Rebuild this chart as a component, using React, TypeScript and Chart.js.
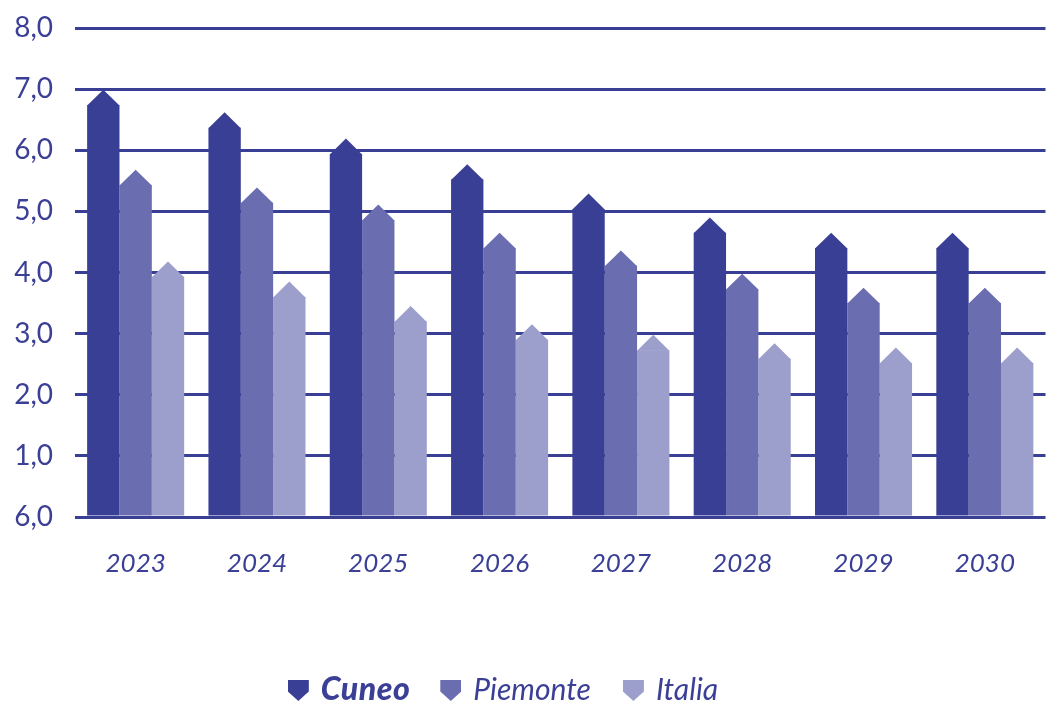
import React, { useEffect, useRef } from "react";
import { Chart, registerables } from "chart.js";

Chart.register(...registerables);

const categories = ["2023", "2024", "2025", "2026", "2027", "2028", "2029", "2030"];
const cuneo = [6.74, 6.37, 5.94, 5.52, 5.04, 4.65, 4.4, 4.4];
const piemonte = [5.43, 5.14, 4.86, 4.4, 4.11, 3.73, 3.5, 3.5];
const italia = [3.93, 3.6, 3.2, 2.9, 2.73, 2.59, 2.52, 2.52];
const yTickLabels = ["6,0", "1,0", "2,0", "3,0", "4,0", "5,0", "6,0", "7,0", "8,0"];
const seriesNames = ["Cuneo", "Piemonte", "Italia"];
const seriesColors = ["#393f95", "#6a6eb0", "#9c9fcc"];
const textColor = "#3b4096";
const gridColor = "#3a3f96";

const capPlugin = {
  id: "barCaps",
  afterDatasetsDraw(chart: any) {
    const ctx = chart.ctx;
    chart.data.datasets.forEach((ds: any, di: number) => {
      const meta = chart.getDatasetMeta(di);
      if (meta.hidden) return;
      meta.data.forEach((bar: any) => {
        const w = bar.width;
        const h = (w / 2) * 0.95;
        ctx.save();
        ctx.fillStyle = ds.backgroundColor;
        ctx.beginPath();
        ctx.moveTo(bar.x - w / 2, bar.y + 0.5);
        ctx.lineTo(bar.x, bar.y - h);
        ctx.lineTo(bar.x + w / 2, bar.y + 0.5);
        ctx.closePath();
        ctx.fill();
        ctx.restore();
      });
    });
  },
};

function Marker({ color }: { color: string }) {
  return (
    <span
      style={{
        display: "inline-block",
        width: 21,
        height: 21,
        background: color,
        clipPath: "polygon(0 0, 100% 0, 100% 55%, 50% 100%, 0 55%)",
        marginRight: 12,
        verticalAlign: "middle",
        position: "relative",
        top: -2,
      }}
    />
  );
}

export default function App() {
  const ref = useRef<HTMLCanvasElement | null>(null);

  useEffect(() => {
    document.body.style.margin = "0";
    const canvas = ref.current;
    if (!canvas) return;
    const chart = new Chart(canvas, {
      type: "bar",
      data: {
        labels: categories,
        datasets: [
          { label: seriesNames[0], data: cuneo, backgroundColor: seriesColors[0] },
          { label: seriesNames[1], data: piemonte, backgroundColor: seriesColors[1] },
          { label: seriesNames[2], data: italia, backgroundColor: seriesColors[2] },
        ].map((d) => ({ ...d, categoryPercentage: 0.8, barPercentage: 1, borderWidth: 0 })),
      },
      options: {
        animation: false,
        responsive: false,
        maintainAspectRatio: false,
        layout: { padding: { top: 28, right: 0, left: 0, bottom: 0 } },
        plugins: { legend: { display: false }, tooltip: { enabled: false } },
        scales: {
          x: {
            grid: { display: false, drawTicks: false },
            border: { display: false },
            ticks: {
              color: textColor,
              font: { family: "Lato", style: "italic", size: 26 },
              padding: 31,
              maxRotation: 0,
            },
            afterFit: (s: any) => {
              s.height = 187;
            },
          },
          y: {
            min: 0,
            max: 8,
            z: 1,
            grid: { color: gridColor, lineWidth: 3, drawTicks: false },
            border: { display: false },
            ticks: {
              stepSize: 1,
              color: textColor,
              font: { family: "Lato", size: 28 },
              padding: 22,
              callback: (v: any) => yTickLabels[Math.round(Number(v))] ?? "",
            },
            afterFit: (s: any) => {
              s.width = 75;
              s.paddingTop = 0;
              s.paddingBottom = 0;
            },
          },
        },
      },
      plugins: [capPlugin],
    } as any);
    return () => chart.destroy();
  }, []);

  return (
    <div style={{ position: "relative", width: 1046, height: 704 }}>
      <canvas ref={ref} width={1046} height={704} style={{ display: "block" }} />
      <div
        style={{
          position: "absolute",
          left: -20,
          width: 1046,
          top: 670,
          textAlign: "center",
          fontFamily: "Lato",
          fontStyle: "italic",
          fontSize: 30,
          color: textColor,
          whiteSpace: "nowrap",
          lineHeight: "36px",
        }}
      >
        <span style={{ marginRight: 30 }}>
          <Marker color={seriesColors[0]} />
          <span style={{ fontWeight: 900, fontSize: 32, letterSpacing: 0.5 }}>{seriesNames[0]}</span>
        </span>
        <span style={{ marginRight: 32 }}>
          <Marker color={seriesColors[1]} />
          <span>{seriesNames[1]}</span>
        </span>
        <span>
          <Marker color={seriesColors[2]} />
          <span>{seriesNames[2]}</span>
        </span>
      </div>
    </div>
  );
}
